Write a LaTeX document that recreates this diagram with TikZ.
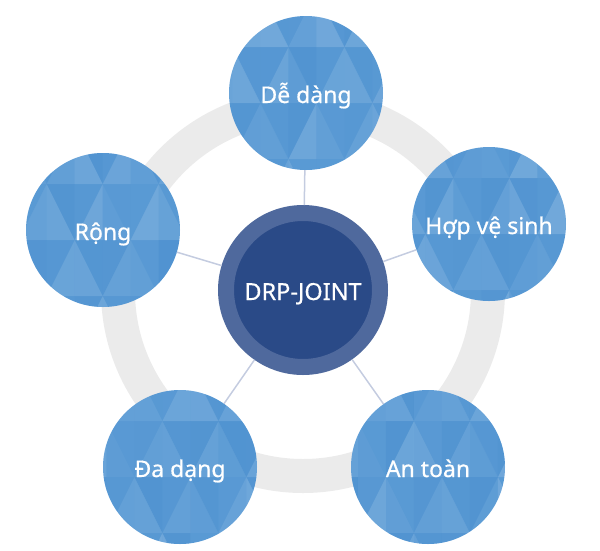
\documentclass[tikz,border=0pt]{standalone}
\usepackage{fontspec}
\setmainfont{Noto Sans}[BoldFont={Noto Sans},BoldFeatures={FakeBold=0.6}]
\usepackage{xcolor}
\definecolor{petalblue}{HTML}{5B9BD5}
\definecolor{petaldark}{HTML}{4389CB}
\definecolor{hubring}{HTML}{4F699D}
\definecolor{hubcore}{HTML}{2A4A87}
\definecolor{spokegray}{HTML}{C4CCE0}
\definecolor{trackgray}{HTML}{EBEBEB}

\begin{document}
\pgfmathsetseed{11}
\begin{tikzpicture}[x=1pt,y=-1pt,
	facets/.style={path picture={
		\begin{scope}[shift={(path picture bounding box.center)}]
		\foreach \i in {-6,...,5}
		{
			\foreach \j in {-4,...,3}
			{
				\pgfmathsetmacro\opa{0.02+0.12*rnd}
				\pgfmathsetmacro\opb{0.05+0.35*rnd}
				\pgfmathtruncatemacro\parity{mod(\i+\j+10,2)}
				\ifnum\parity=0
					\fill[white,opacity=\opa] (\i*28pt,\j*56pt) -- ++(28pt,0pt) -- ++(0pt,56pt) -- cycle;
					\fill[petaldark,opacity=\opb] (\i*28pt,\j*56pt) -- ++(0pt,56pt) -- ++(28pt,0pt) -- cycle;
				\else
					\fill[white,opacity=\opa] (\i*28pt,\j*56pt) -- ++(28pt,0pt) -- ++(-28pt,56pt) -- cycle;
					\fill[petaldark,opacity=\opb] (\i*28pt+28pt,\j*56pt) -- ++(0pt,56pt) -- ++(-28pt,0pt) -- cycle;
				\fi
			}
		}
		\end{scope}
	}},
	petal/.style={circle,fill=petalblue,minimum size=154pt,inner sep=0pt,text height=20pt,text depth=0pt,text=white,font=\fontsize{23}{27}\selectfont\bfseries,facets},
	hub/.style={circle,fill=hubcore,draw=hubring,line width=16pt,minimum size=154pt,inner sep=0pt,text height=20pt,text depth=0pt,text=white,font=\fontsize{23.5}{27}\selectfont\bfseries},
	spoke/.style={draw=spokegray,line width=1.5pt}]
	
	\useasboundingbox (0,0) rectangle (600,550);
	
	% draw grey track behind the circles
	\draw[trackgray,line width=34pt] (303,291) circle (185);
	
	% draw centre
	\node (hub) at (303,290) [hub] {DRP-JOINT};
	
	% draw outer circles
	\node (easy) at (306,93) [petal] {Dễ dàng};
	\node (clean) at (489,224) [petal] {Hợp vệ sinh};
	\node (safe) at (428,467) [petal] {An toàn};
	\node (varied) at (180,467) [petal] {Đa dạng};
	\node (wide) at (103,230) [petal] {Rộng};
	
	% draw lines from centre to outer circles
	\foreach \n in {easy,clean,safe,varied,wide}
	{
		\draw[spoke] (hub) -- (\n);
	}
\end{tikzpicture}
\end{document}
